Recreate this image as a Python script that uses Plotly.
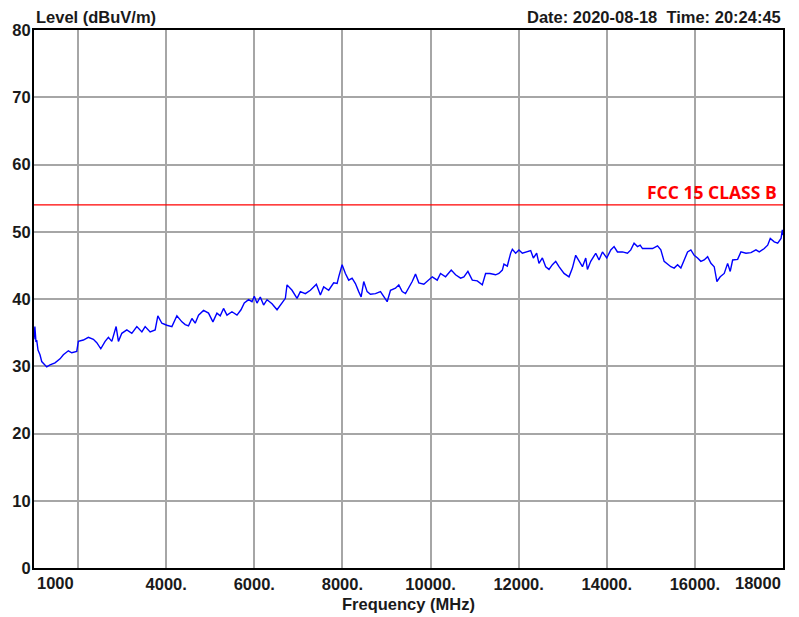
import plotly.graph_objects as go

freq_mhz = [1000, 1020, 1045, 1061, 1091, 1136, 1175, 1289, 1364, 1477, 1591, 1666, 1780, 1857, 1970,
            2007, 2120, 2234, 2348, 2425, 2516, 2614, 2689, 2766, 2864, 2916, 2993, 3107, 3220, 3334,
            3448, 3523, 3636, 3750, 3811, 3902, 4016, 4130, 4243, 4357, 4432, 4507, 4584, 4659, 4734,
            4848, 4961, 5061, 5152, 5227, 5302, 5380, 5493, 5607, 5698, 5773, 5870, 5948, 6000, 6061,
            6136, 6211, 6289, 6402, 6516, 6591, 6705, 6743, 6857, 6970, 7045, 7159, 7273, 7409, 7500,
            7575, 7689, 7802, 7880, 7916, 7993, 8068, 8143, 8220, 8295, 8370, 8425, 8484, 8561, 8636,
            8750, 8864, 8939, 9016, 9091, 9205, 9280, 9357, 9432, 9507, 9584, 9659, 9734, 9848, 9961,
            10039, 10152, 10227, 10341, 10470, 10568, 10682, 10757, 10848, 10948, 11061, 11175, 11250,
            11348, 11477, 11552, 11630, 11666, 11743, 11818, 11857, 11932, 12007, 12084, 12159, 12273,
            12334, 12409, 12461, 12539, 12614, 12689, 12766, 12841, 12916, 13030, 13143, 13220, 13295,
            13370, 13448, 13523, 13561, 13636, 13750, 13825, 13902, 14000, 14091, 14166, 14243, 14357,
            14470, 14545, 14620, 14698, 14757, 14811, 14925, 15039, 15152, 15227, 15302, 15380, 15455,
            15530, 15607, 15682, 15757, 15834, 15909, 15984, 16061, 16136, 16211, 16289, 16364, 16439,
            16500, 16575, 16666, 16743, 16802, 16857, 16970, 17045, 17159, 17273, 17386, 17461, 17575,
            17652, 17711, 17802, 17880, 17955, 17985, 18000]
level_dbuv = [34.0, 35.9, 33.6, 33.9, 32.4, 31.7, 30.7, 29.9, 30.2, 30.5, 31.1, 31.7, 32.3, 32.0, 32.2,
              33.7, 33.9, 34.3, 34.0, 33.5, 32.6, 33.7, 34.3, 33.7, 35.9, 33.7, 34.9, 35.4, 34.9, 35.9,
              35.1, 35.9, 35.1, 35.4, 37.5, 36.4, 36.1, 35.9, 37.5, 36.6, 36.2, 36.0, 37.1, 36.4, 37.6,
              38.3, 37.9, 36.6, 37.9, 37.5, 38.6, 37.6, 38.1, 37.6, 38.4, 39.4, 39.9, 39.6, 40.4, 39.4,
              40.3, 39.1, 39.9, 39.3, 38.4, 39.1, 40.1, 42.1, 41.3, 40.1, 41.1, 40.8, 41.3, 42.2, 40.6,
              41.8, 41.3, 42.4, 42.3, 43.3, 45.1, 43.8, 42.8, 43.1, 42.3, 41.1, 40.3, 42.6, 41.1, 40.7,
              40.8, 41.1, 40.3, 39.6, 41.3, 41.6, 42.1, 41.1, 40.8, 41.6, 42.6, 43.7, 42.4, 42.2, 42.8,
              43.3, 42.8, 43.8, 43.3, 44.3, 43.6, 43.1, 43.3, 44.1, 42.8, 42.7, 42.1, 43.8,
              43.8, 43.6, 43.8, 44.3, 45.2, 44.9, 46.8, 47.4, 46.8, 47.3, 46.8, 47.0, 47.2,
              46.1, 46.8, 45.3, 46.1, 44.8, 44.4, 45.1, 45.6, 44.8, 43.8, 43.3, 44.6, 46.5,
              45.6, 44.8, 46.1, 44.4, 45.6, 46.8, 45.8, 47.0, 46.1, 47.3, 47.8, 47.0, 47.0,
              46.8, 47.3, 48.3, 47.8, 48.0, 47.5, 47.5, 47.5, 47.9, 47.3, 45.6, 45.2, 44.8,
              44.6, 45.1, 44.6, 45.8, 47.0, 47.3, 46.5, 46.1, 45.6, 45.8, 46.3, 45.3, 44.8,
              42.6, 43.3, 43.8, 45.3, 44.1, 45.8, 45.9, 47.0, 46.8, 46.9, 47.3, 47.0, 47.5,
              48.0, 49.0, 48.5, 48.3, 49.0, 50.3, 49.5]

limit_name = "FCC 15 CLASS B"
limit_level = 54
limit_freq = [1000, 18000]

grid_ticks = [2000, 4000, 6000, 8000, 10000, 12000, 14000, 16000]
grid_labels = ["", "4000.", "6000.", "8000.", "10000.", "12000.", "14000.", "16000."]
edge_labels = ["1000", "18000"]
y_ticks = [0, 10, 20, 30, 40, 50, 60, 70, 80]

font_main = "Liberation Sans, Arial, sans-serif"
txt_color = "#1a1a1a"
fs = 16.5

fig = go.Figure()
fig.add_trace(go.Scatter(x=freq_mhz, y=level_dbuv, mode="lines",
                         line=dict(color="#0000ff", width=1.4), showlegend=False))
fig.add_trace(go.Scatter(x=limit_freq, y=[limit_level, limit_level], mode="lines",
                         line=dict(color="#ff0000", width=1.3), showlegend=False))

fig.update_layout(
    width=791, height=609,
    margin=dict(l=26, r=16, t=22, b=49, autoexpand=False),
    paper_bgcolor="white", plot_bgcolor="white",
    font=dict(family=font_main, size=fs, color=txt_color),
    xaxis=dict(range=[1000, 18000], tickmode="array", tickvals=grid_ticks, ticktext=grid_labels,
               showgrid=True, gridcolor="#a6a6a6", gridwidth=1.5, automargin=False,
               showline=True, linecolor="black", linewidth=2, mirror=True,
               ticks="", zeroline=False, ticklabelstandoff=0,
               tickfont=dict(family=font_main, size=fs, color=txt_color, weight="bold"),
               title=dict(text="<b>Frequency (MHz)</b>", standoff=7,
                          font=dict(family=font_main, size=fs, color=txt_color))),
    yaxis=dict(range=[0, 80], tickmode="array", tickvals=y_ticks,
               showgrid=True, gridcolor="#a6a6a6", gridwidth=1.5, automargin=False,
               showline=True, linecolor="black", linewidth=2, mirror=True,
               ticks="", zeroline=False, ticklabelstandoff=-2,
               tickfont=dict(family=font_main, size=fs, color=txt_color, weight="bold")),
)

fig.add_annotation(x=0, y=1, xref="paper", yref="paper", xanchor="left", yanchor="bottom",
                   text="<b>Level (dBuV/m)</b>", showarrow=False, yshift=2,
                   font=dict(family=font_main, size=fs, color=txt_color))
fig.add_annotation(x=1, y=1, xref="paper", yref="paper", xanchor="right", yanchor="bottom",
                   text="<b>Date: 2020-08-18  Time: 20:24:45</b>", showarrow=False, yshift=2,
                   font=dict(family=font_main, size=fs, color=txt_color))
fig.add_annotation(x=limit_freq[1], y=limit_level, xref="x", yref="y", xanchor="right", yanchor="bottom",
                   text="<b>" + limit_name + "</b>", showarrow=False, xshift=-4, yshift=-1,
                   font=dict(family="Open Sans, sans-serif", size=17.5, color="#ff0000"))
fig.add_annotation(x=0, y=0, xref="paper", yref="paper", xanchor="left", yanchor="top",
                   text="<b>" + edge_labels[0] + "</b>", showarrow=False, yshift=-4, xshift=1,
                   font=dict(family=font_main, size=fs, color=txt_color))
fig.add_annotation(x=1, y=0, xref="paper", yref="paper", xanchor="right", yanchor="top",
                   text="<b>" + edge_labels[1] + "</b>", showarrow=False, yshift=-4,
                   font=dict(family=font_main, size=fs, color=txt_color))

fig.write_html("out.html")
